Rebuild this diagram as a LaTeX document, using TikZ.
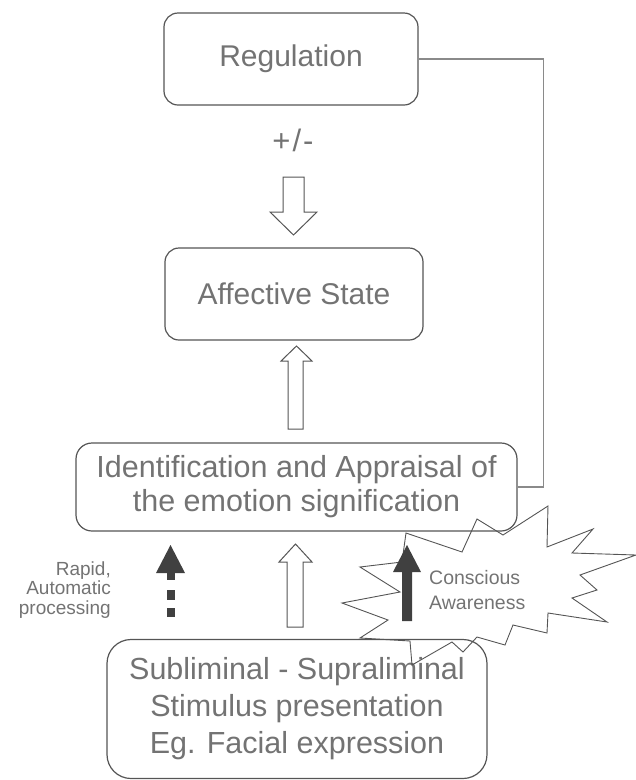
\documentclass[tikz,border=0pt]{standalone}
\usepackage{fontspec}
\setmainfont{Liberation Sans}
\definecolor{txtgray}{HTML}{737373}
\definecolor{linegray}{HTML}{555555}
\definecolor{conngray}{HTML}{8A8A8A}
\definecolor{darkfill}{HTML}{404040}
\begin{document}
\begin{tikzpicture}[x=1pt,y=-1pt,
  box/.style={draw=linegray, line width=1.2pt, rounded corners=14pt, inner sep=0pt, text=txtgray, align=center},
  bigfont/.style={font=\fontsize{30}{34}\selectfont},
  smalltext/.style={text=txtgray, font=\fontsize{19}{19.5}\selectfont, inner sep=0pt},
  hollow/.style={draw=linegray, fill=white, line width=1pt, line join=miter},
  solidarrow/.style={fill=darkfill, draw=none},
  conn/.style={draw=conngray, line width=1.1pt},
  burst/.style={draw=linegray, line width=0.9pt, line join=miter}]
\useasboundingbox (0,0) rectangle (636,780);

% boxes
\node[box, bigfont, minimum width=254pt, minimum height=92pt] (reg) at (291,59) {Regulation};
\node[text=txtgray, font=\fontsize{31}{34}\selectfont, inner sep=0pt] (pm) at (293,140) {+\kern2pt/\kern2pt-};
\node[box, bigfont, minimum width=258pt, minimum height=92pt] (aff) at (294,294) {Affective State};
\node[box, font=\fontsize{30.5}{34}\selectfont, minimum width=441pt, minimum height=88pt, rounded corners=16pt] (ident) at (296.5,487)
  {Identification and Appraisal of\\the emotion signification};
\node[box, font=\fontsize{30.5}{37}\selectfont, minimum width=380pt, minimum height=139pt, rounded corners=24pt] (stim) at (297,709)
  {Subliminal - Supraliminal\\Stimulus presentation\\Eg. Facial expression};

% feedback connector
\draw[conn] (reg.east) -- ++(125,0) coordinate (fbk) |- (ident.east);

% hollow arrows
\draw[hollow] (283,177) -- (304,177) -- (304,212) -- (317,212) -- (293.5,235) -- (270,212) -- (283,212) -- cycle;
\draw[hollow] (288,429) -- (303,429) -- (303,361) -- (312,361) -- (296.5,346) -- (281,361) -- (288,361) -- cycle;
\draw[hollow] (287,627) -- (303,627) -- (303,562) -- (312,562) -- (295.5,544) -- (279,562) -- (287,562) -- cycle;

% starburst
\draw[burst] (406,533) -- (462,552) -- (477,519) -- (503,535) -- (548,506) -- (547,547) -- (593,529) -- (572,553)
  -- (636,555) -- (580,575) -- (597,590) -- (572,598) -- (607,622) -- (548,613) -- (547,633) -- (513,625)
  -- (505,645) -- (477,637) -- (463,652) -- (452,642) -- (412,665) -- (410,641) -- (360,638) -- (388,620)
  -- (342,603) -- (400,592) -- (360,567) -- (402,562) -- cycle;

% dark arrows
\fill[solidarrow] (156,573) -- (170.5,545) -- (185,573) -- cycle;
\fill[solidarrow] (167,572) rectangle (175,580);
\fill[solidarrow] (167,590) rectangle (175,600);
\fill[solidarrow] (167,608) rectangle (175,617);
\fill[solidarrow] (402,621) -- (412,621) -- (412,572) -- (421,572) -- (407,545) -- (393,572) -- (402,572) -- cycle;

% labels
\node[smalltext, align=right, anchor=east] (rapid) at (111,590) {Rapid,\\Automatic\\processing};
\node[smalltext, font=\fontsize{19.5}{25}\selectfont, align=left, anchor=west] (consc) at (429,590) {Conscious\\Awareness};
\end{tikzpicture}
\end{document}
